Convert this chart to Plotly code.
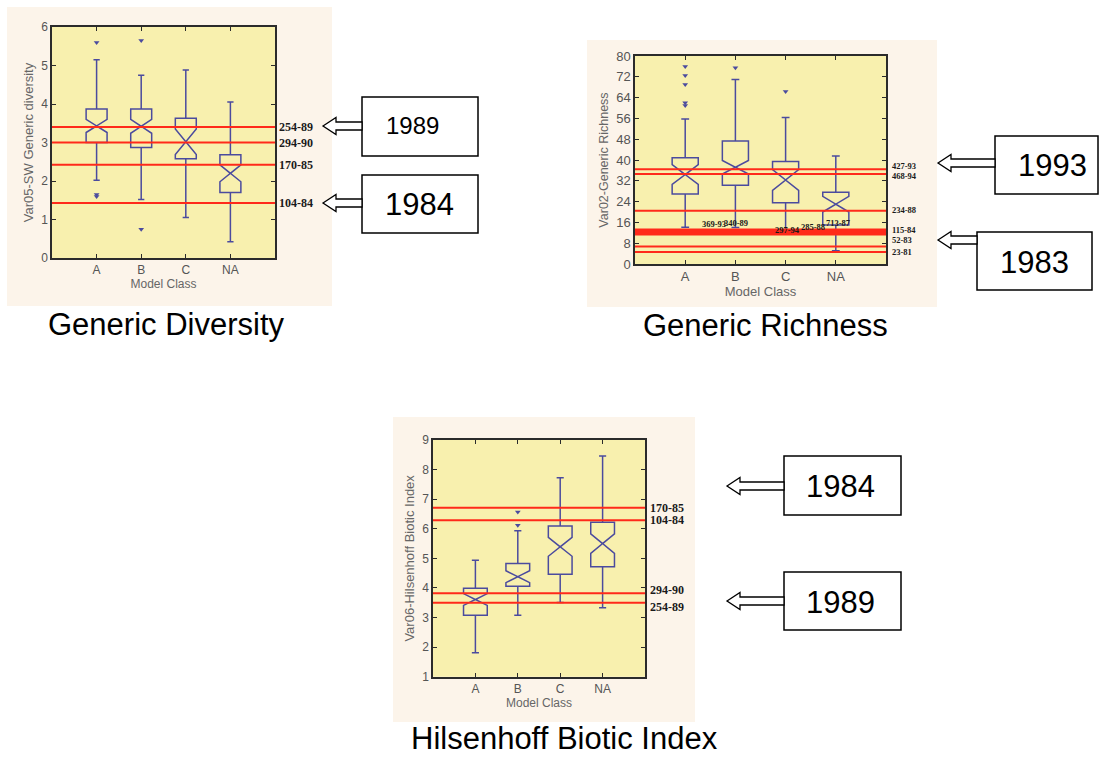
import plotly.graph_objects as go

W, H = 1104, 758

categories = ["A", "B", "C", "NA"]

# ---- Panel 1: Generic Diversity ----
div_q1 = [3.00, 2.87, 2.58, 1.70]
div_median = [3.43, 3.42, 3.02, 2.20]
div_q3 = [3.87, 3.87, 3.63, 2.68]
div_lower = [2.02, 1.52, 1.05, 0.42]
div_upper = [5.15, 4.75, 4.88, 4.05]
div_notch = [0.17, 0.18, 0.33, 0.22]
div_out_x = ["A", "A", "A", "B", "B"]
div_out_y = [5.60, 1.65, 1.60, 5.65, 0.75]
div_lines = [3.40, 3.00, 2.42, 1.43]
div_line_labels = ["254-89", "294-90", "170-85", "104-84"]

# ---- Panel 2: Generic Richness ----
rich_q1 = [26.9, 30.3, 23.6, 15.0]
rich_median = [34.4, 37.2, 32.3, 23.0]
rich_q3 = [40.9, 47.3, 39.4, 27.6]
rich_lower = [14.1, 14.0, 13.0, 5.1]
rich_upper = [55.8, 71.0, 56.3, 41.5]
rich_notch = [3.8, 2.6, 4.0, 3.0]
rich_out_x = ["A", "A", "A", "A", "A", "B", "C"]
rich_out_y = [76.0, 72.5, 69.0, 62.0, 61.0, 75.5, 66.3]
rich_lines = [36.4, 34.6, 20.5, 13.3, 12.9, 12.5, 12.1, 11.7, 11.3, 6.7, 4.6]
rich_line_labels = ["427-93", "468-94", "234-88", "369-93", "340-89", "297-94",
                    "285-88", "713-87", "115-84", "52-83", "23-81"]

# ---- Panel 3: Hilsenhoff Biotic Index ----
hbi_q1 = [3.08, 4.06, 4.46, 4.72]
hbi_median = [3.61, 4.38, 5.39, 5.50]
hbi_q3 = [3.99, 4.83, 6.09, 6.22]
hbi_lower = [1.81, 3.08, 3.51, 3.33]
hbi_upper = [4.94, 5.93, 7.72, 8.46]
hbi_notch = [0.20, 0.20, 0.32, 0.33]
hbi_out_x = ["B", "B"]
hbi_out_y = [6.57, 6.12]
hbi_lines = [6.71, 6.29, 3.82, 3.50]
hbi_line_labels = ["170-85", "104-84", "294-90", "254-89"]

captions = ["Generic Diversity", "Generic Richness", "Hilsenhoff Biotic Index"]
y_titles = ["Var05-SW Generic diversity", "Var02-Generic Richness", "Var06-Hilsenhoff Biotic Index"]
x_title = "Model Class"
year_boxes = ["1989", "1984", "1993", "1983", "1984", "1989"]

# ---- styles ----
SANS = "Arial, Liberation Sans, sans-serif"
SERIF = "Times New Roman, Liberation Serif, serif"
RED = "#FF2A1A"
BOXC = "#4B4B9E"
CREAM = "#FCF4EA"
YELLOW = "#F8F0AE"
FRAME = "#2b2b2b"


def PX(x):
    return x / W


def PY(y):
    return 1 - y / H


fig = go.Figure()

panel_defs = [
    dict(xa="x", ya="y", q1=div_q1, med=div_median, q3=div_q3, lo=div_lower, up=div_upper,
         notch=div_notch, ox=div_out_x, oy=div_out_y, width=0.47),
    dict(xa="x2", ya="y2", q1=rich_q1, med=rich_median, q3=rich_q3, lo=rich_lower, up=rich_upper,
         notch=rich_notch, ox=rich_out_x, oy=rich_out_y, width=0.52),
    dict(xa="x3", ya="y3", q1=hbi_q1, med=hbi_median, q3=hbi_q3, lo=hbi_lower, up=hbi_upper,
         notch=hbi_notch, ox=hbi_out_x, oy=hbi_out_y, width=0.56),
]

for p in panel_defs:
    fig.add_trace(go.Box(
        x=categories, q1=p["q1"], median=p["med"], q3=p["q3"],
        lowerfence=p["lo"], upperfence=p["up"], notchspan=p["notch"],
        notched=True, notchwidth=0.5, width=p["width"], whiskerwidth=0.3,
        boxpoints=False, line=dict(color=BOXC, width=1.5),
        fillcolor="rgba(0,0,0,0)", xaxis=p["xa"], yaxis=p["ya"], showlegend=False,
        hoverinfo="skip"))
    fig.add_trace(go.Scatter(
        x=p["ox"], y=p["oy"], mode="markers",
        marker=dict(symbol="triangle-down", size=5, color=BOXC),
        xaxis=p["xa"], yaxis=p["ya"], showlegend=False, hoverinfo="skip"))


def xaxis_cfg(dom, fsize):
    return dict(domain=[PX(dom[0]), PX(dom[1])], type="category", categoryorder="array",
                categoryarray=categories, range=[-1, 4], showline=True, linecolor=FRAME,
                linewidth=1.5, mirror="ticks", ticks="inside", ticklen=4, tickcolor=FRAME,
                showgrid=False, zeroline=False, automargin=False,
                tickfont=dict(family=SANS, size=fsize, color="#555"),
                title=dict(text=x_title, font=dict(family=SANS, size=fsize, color="#666"), standoff=3))


def yaxis_cfg(dom, rng, dtick, title, tsize, fsize):
    return dict(domain=[PY(dom[1]), PY(dom[0])], range=rng, dtick=dtick, tick0=rng[0],
                showline=True, linecolor=FRAME, linewidth=1.5, mirror="ticks", ticks="inside",
                ticklen=4, tickcolor=FRAME, showgrid=False, zeroline=False, automargin=False,
                tickfont=dict(family=SANS, size=fsize, color="#555"),
                title=dict(text=title, font=dict(family=SANS, size=tsize, color="#666"), standoff=5))


frames = [(52, 27, 275, 258), (635, 56, 886, 264), (433, 440, 645, 676.7)]

fig.update_layout(
    width=W, height=H, margin=dict(l=0, r=0, t=0, b=0),
    paper_bgcolor="white", plot_bgcolor=YELLOW, showlegend=False,
    xaxis=dict(xaxis_cfg((frames[0][0], frames[0][2]), 12), anchor="y"),
    yaxis=dict(yaxis_cfg((frames[0][1], frames[0][3]), [0, 6], 1, y_titles[0], 13, 12), anchor="x"),
    xaxis2=dict(xaxis_cfg((frames[1][0], frames[1][2]), 13), anchor="y2"),
    yaxis2=dict(yaxis_cfg((frames[1][1], frames[1][3]), [0, 80], 8, y_titles[1], 12.5, 13), anchor="x2"),
    xaxis3=dict(xaxis_cfg((frames[2][0], frames[2][2]), 12), anchor="y3"),
    yaxis3=dict(yaxis_cfg((frames[2][1], frames[2][3]), [1, 9], 1, y_titles[2], 13, 12), anchor="x3"),
)

shapes = []
# scanned-image cream backgrounds, then yellow plot areas on top of them
for (x0, y0, x1, y1) in [(7, 7, 332, 306), (587, 40, 937, 307), (393, 417, 695, 722)]:
    shapes.append(dict(type="rect", xref="paper", yref="paper", x0=PX(x0), x1=PX(x1),
                       y0=PY(y1), y1=PY(y0), fillcolor=CREAM, line=dict(width=0), layer="below"))
for (x0, y0, x1, y1) in frames:
    shapes.append(dict(type="rect", xref="paper", yref="paper", x0=PX(x0), x1=PX(x1),
                       y0=PY(y1), y1=PY(y0), fillcolor=YELLOW, line=dict(width=0), layer="below"))

# red reference lines
for xa, ya, vals in [("x", "y", div_lines), ("x2", "y2", rich_lines), ("x3", "y3", hbi_lines)]:
    for v in vals:
        shapes.append(dict(type="line", xref=xa + " domain", x0=0, x1=1, yref=ya, y0=v, y1=v,
                           line=dict(color=RED, width=2)))

annotations = []


def red_label(text, xpix, yref, v, size, yshift=0, xanchor="left"):
    annotations.append(dict(text="<b>" + text + "</b>", xref="paper", x=PX(xpix), xanchor=xanchor,
                            yref=yref, y=v, yanchor="middle", yshift=yshift, showarrow=False,
                            font=dict(family=SERIF, size=size, color="#1a1a1a")))


for lab, v in zip(div_line_labels, div_lines):
    red_label(lab, 277, "y", v, 12)

right_shift = {"427-93": 3.4, "468-94": -1.7, "234-88": 0.7, "115-84": 4.6, "52-83": 6.6, "23-81": 0.3}
inside_pos = {"369-93": (714, 5.1), "340-89": (736, 7.2), "297-94": (787, 1.5),
              "285-88": (813, 5.8), "713-87": (838, 10.9)}
for lab, v in zip(rich_line_labels, rich_lines):
    if lab in right_shift:
        red_label(lab, 890, "y2", v, 8.5, right_shift[lab])
    else:
        xp, ys = inside_pos[lab]
        red_label(lab, xp, "y2", v, 8.5, ys, xanchor="center")

hbi_shift = [0, 0, 3, -4]
for lab, v, s in zip(hbi_line_labels, hbi_lines, hbi_shift):
    red_label(lab, 648, "y3", v, 12, s)


# year boxes with hollow block arrows
def block_arrow(tip_x, y, base_x, hl=13, hh=8.5, sh=4):
    pts = [(tip_x, y), (tip_x + hl, y - hh), (tip_x + hl, y - sh), (base_x, y - sh),
           (base_x, y + sh), (tip_x + hl, y + sh), (tip_x + hl, y + hh)]
    path = "M " + " L ".join("{:.5f},{:.5f}".format(PX(a), PY(b)) for a, b in pts) + " Z"
    shapes.append(dict(type="path", xref="paper", yref="paper", path=path,
                       fillcolor="white", line=dict(color="black", width=1.3)))


box_geo = [
    # (x0, y0, x1, y1, text_cx, text_cy, font size, arrow tip x, arrow y)
    (362, 97, 478, 156, 412, 125, 24, 323, 126),
    (362, 175, 478, 233, 419, 204, 31, 323, 203),
    (995, 136, 1098, 194, 1052, 166, 31, 938, 163),
    (977, 232, 1092, 290, 1034, 262, 31, 938, 240),
    (784, 456, 901, 515, 840, 486, 31, 727, 486),
    (784, 572, 901, 630, 840, 602, 31, 727, 601),
]
for txt, (x0, y0, x1, y1, tx, ty, fs, ax, ay) in zip(year_boxes, box_geo):
    shapes.append(dict(type="rect", xref="paper", yref="paper", x0=PX(x0), x1=PX(x1),
                       y0=PY(y1), y1=PY(y0), fillcolor="white", line=dict(color="black", width=1.5)))
    block_arrow(ax, ay, x0)
    annotations.append(dict(text=txt, xref="paper", yref="paper", x=PX(tx), y=PY(ty),
                            xanchor="center", yanchor="middle", showarrow=False,
                            font=dict(family=SANS, size=fs, color="black")))

# captions
for txt, (cx, cy) in zip(captions, [(166, 324), (765, 325), (564, 738)]):
    annotations.append(dict(text=txt, xref="paper", yref="paper", x=PX(cx), y=PY(cy),
                            xanchor="center", yanchor="middle", showarrow=False,
                            font=dict(family=SANS, size=31, color="black")))

fig.update_layout(shapes=shapes, annotations=annotations)
fig.write_html("out.html")
